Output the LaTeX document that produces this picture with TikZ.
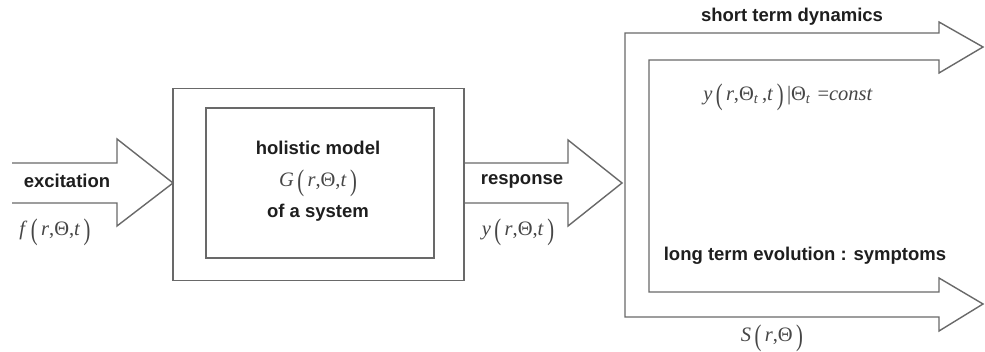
\documentclass[tikz,border=0pt]{standalone}
\usepackage{fontspec}
\usepackage{graphicx}
\setmainfont{Liberation Sans}
\newfontfamily\tms{Liberation Serif}
\definecolor{linegray}{RGB}{105,105,105}
\definecolor{mathgray}{RGB}{70,70,70}
\definecolor{txt}{RGB}{30,30,30}
\newcommand{\lp}{\raisebox{-0.17em}{\scalebox{1}[1.45]{(}}\,}
\newcommand{\rp}{\,\raisebox{-0.17em}{\scalebox{1}[1.45]{)}}}
\begin{document}
\begin{tikzpicture}[x=1pt,y=-1pt,
  shape line/.style={draw=linegray,line width=1.4pt,line join=miter},
  lbl/.style={font=\fontsize{18.5}{22}\selectfont\bfseries,text=txt,inner sep=0pt},
  mth/.style={font=\tms\fontsize{20.5}{24}\selectfont,text=mathgray,inner sep=0pt}]
\useasboundingbox[fill=white] (0,0) rectangle (985,352);
% input arrow
\draw[shape line] (12,163) -- (117,163) -- (117,139) -- (173,183) -- (117,226) -- (117,203) -- (12,203);
% boxes
\node[shape line,minimum width=291pt,minimum height=192pt,inner sep=0pt] (outer) at (318.5,184.5) {};
\node[shape line,minimum width=228pt,minimum height=150pt,inner sep=0pt] (inner) at (320,183) {};
% response arrow
\draw[shape line] (outer.east |- 0,163) -- (568,163) -- (568,140) -- (622,183) -- (568,226) -- (568,203) -- (outer.east |- 0,203);
% right split arrows
\draw[shape line] (939,22) -- (983,47) -- (939,73) -- (939,60) -- (649,60) -- (649,292) -- (939,292) -- (939,278) -- (983,304) -- (939,331) -- (939,317) -- (625,317) -- (625,33) -- (939,33) -- cycle;
% texts
\node[lbl] (exc) at (67,181) {excitation};
\node[mth] (f) at (55,232) {\textit{f}\,\lp\textit{r},Θ,\textit{t}\rp};
\node[lbl] (hol) at (318,148) {holistic model};
\node[mth] (G) at (318,183) {\textit{G}\,\lp\textit{r},Θ,\textit{t}\rp};
\node[lbl] (sys) at (318,213) {of a system};
\node[lbl] (resp) at (522,181) {response};
\node[mth] (y) at (518,232) {\textit{y}\,\lp\textit{r},Θ,\textit{t}\rp};
\node[lbl] (short) at (792,17) {short term dynamics};
\node[mth] (yc) at (788,97) {\textit{y}\,\lp\textit{r},Θ\textsubscript{\textit{t}}\,,\textit{t}\rp\,|Θ\textsubscript{\textit{t}}\,\,=\textit{const}};
\node[lbl] (long) at (805,256) {long term evolution : symptoms};
\node[mth] (S) at (772,338) {\textit{S}\,\lp\textit{r},Θ\rp};
\end{tikzpicture}
\end{document}
